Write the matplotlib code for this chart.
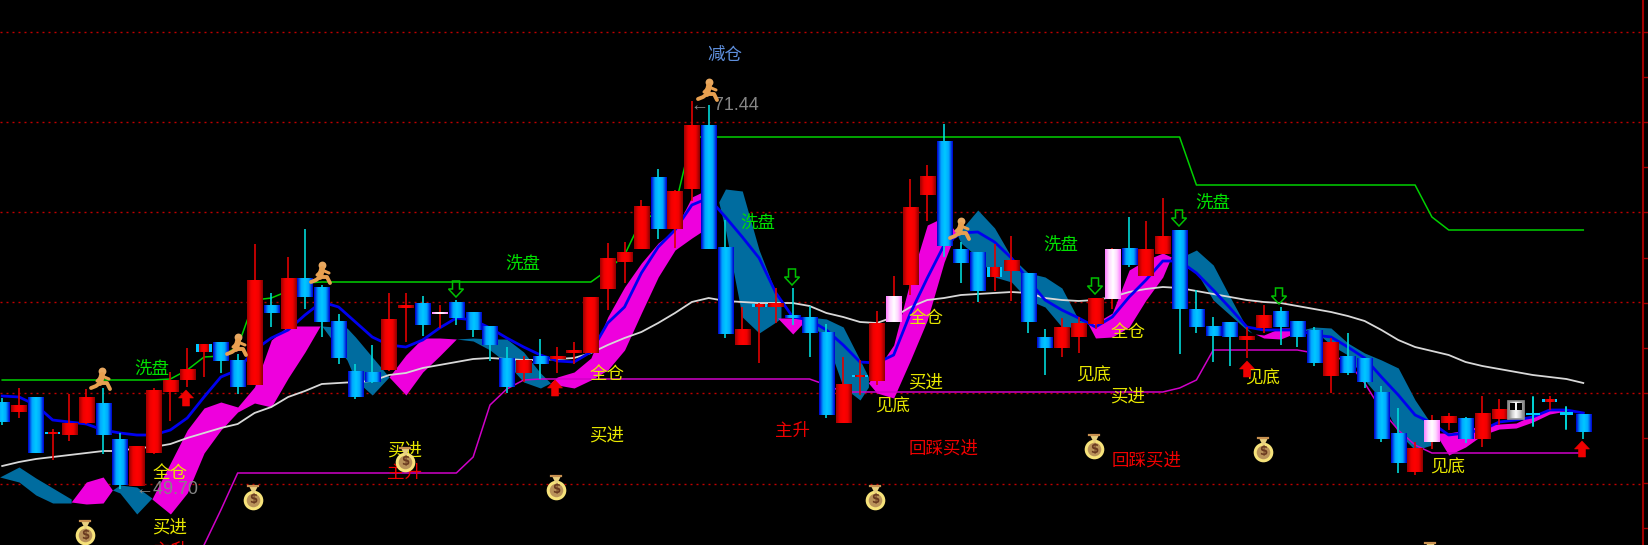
import numpy as np
import matplotlib
matplotlib.use("Agg")
import matplotlib.pyplot as plt
from matplotlib.colors import LinearSegmentedColormap
from matplotlib.patches import Polygon, Rectangle

plt.rcParams['font.family'] = ['Noto Sans CJK SC', 'DejaVu Sans']

kinds = ['b','r','b','x','r','r','b','b','r','r','r','r','x','b','b','r','b','r','b','b',
         'b','b','b','r','d','b','p','b','b','b','b','r','b','d','d','r','r','r','r','b',
         'r','r','b','b','r','x','d','b','b','b','r','x','r','p','r','r','b','b','b','x',
         'r','b','b','r','r','r','p','b','r','r','b','b','b','b','d','r','b','b','b','r',
         'b','b','b','b','r','p','r','b','r','r','w','c','x','c','b']
body_top = [402,405,397,432,423,397,403,439,446,390,380,369,344,342,360,280,305,278,278,287,
            321,371,372,319,305,303,312,302,312,326,358,360,356,356,350,297,258,252,206,177,
            191,125,125,247,329,304,303,315,317,332,384,375,323,296,207,176,141,249,252,267,
            260,273,337,327,323,298,249,248,249,236,230,309,326,322,336,315,311,321,330,342,
            356,358,392,433,448,420,416,418,413,409,401,413,399,412,414]
body_bot = [422,412,453,434,435,423,435,485,486,453,392,380,352,361,387,385,313,329,297,322,
            358,397,382,370,308,325,314,318,330,345,387,373,364,359,353,353,289,262,249,229,
            229,189,249,334,345,307,307,318,333,415,423,377,381,322,285,195,246,263,291,277,
            271,322,348,348,337,324,299,265,276,254,309,327,336,337,340,328,327,337,363,376,
            373,382,439,463,472,442,423,439,439,419,419,415,402,415,432]
high = [398,388,397,429,394,389,388,433,446,388,372,348,344,342,354,244,293,257,229,285,
        314,364,345,293,293,296,305,300,312,326,347,356,339,347,342,297,243,242,200,169,
        190,101,105,220,307,303,288,288,306,324,357,360,311,276,179,165,124,242,252,244,
        236,273,329,318,317,298,248,217,221,198,230,290,317,322,327,305,307,321,327,338,
        333,358,386,408,442,415,413,417,396,399,401,397,396,407,414]
low = [425,418,453,460,441,424,454,489,486,454,421,387,377,373,394,385,327,329,309,337,
       364,399,383,371,342,336,328,325,337,361,393,382,379,373,364,353,310,283,249,239,
       248,201,249,338,345,363,323,325,357,418,423,395,385,322,295,221,257,283,302,291,
       301,333,375,357,353,329,309,267,276,254,354,333,362,366,358,333,345,347,366,393,
       375,388,442,473,475,449,430,443,447,425,419,426,410,429,439]

# moving averages, one value per candle
blue_ma = [396,397,405,420,422,424,430,433,435,435,430,418,397,377,370,350,338,330,315,302,
           307,322,337,345,347,340,328,318,320,328,338,347,355,361,362,352,323,307,273,247,
           230,205,198,217,237,258,293,317,320,330,345,362,363,355,313,278,245,233,232,242,
           258,280,300,310,318,327,317,297,280,261,261,273,290,308,327,330,330,330,335,337,
           347,358,377,395,415,423,435,433,430,422,420,417,410,410,413]
grey_ma = [466,462,459,457,455,453,451,451,448,447,444,438,433,428,424,413,407,397,391,384,
           383,382,381,375,373,368,365,362,359,358,359,360,360,359,358,353,345,338,332,323,
           313,302,298,301,302,303,303,303,306,313,317,322,323,317,307,300,298,295,294,293,
           292,293,298,300,301,300,297,292,289,287,288,291,294,297,300,302,303,306,309,312,
           316,321,330,340,347,351,355,362,366,369,372,375,377,379,383]
green_ln = [380]*10 + [379,370,357,356,347,300,298,291,283] + [282]*17 + \
           [270,255,220,213,207,137] + [137]*29 + [185]*14 + [217] + [230]*9
magenta_idx = list(range(12, 95))
magenta_ln = [545,510] + [473]*14 + [457,405,389,380] + [379]*17 + [385] + [392]*20 + \
             [388,380] + [350]*6 + [353,355,362,383,410,430,445] + [453]*10

# ribbon segments: (candle position, upper level, lower level)
TEAL = '#006c9f'
MAG = '#ee00dd'
ribbons = [
 (TEAL, [-0.15,1,2,3,4.1], [477,467,478,488,499], [477,482,495,503,503]),
 (MAG,  [4.1,5,6,6.55], [502,482,477,490], [502,504,503,490]),
 (TEAL, [6.55,7,8,8.9], [490,485,487,498], [490,493,514,498]),
 (MAG,  [8.9,10,11,12,13,14,15,16,17,18,18.9],
        [499,463,430,408,402,407,387,340,326,326,326],
        [499,514,493,453,430,412,403,407,378,352,326]),
 (TEAL, [19,20.5,21,22,23], [326,328,337,357,377], [326,360,380,395,377]),
 (MAG,  [23,24,25,26,27], [377,355,338,338,339], [377,395,372,356,339]),
 (TEAL, [27,28,29,30,31,32,32.6], [339,338,339,339,352,373,383], [339,341,350,363,382,388,383]),
 (MAG,  [32.6,33,34,35,36,37,38,39,40,41,42,42.3],
        [383,377,372,358,317,287,263,243,230,197,189,205],
        [383,385,388,380,370,350,313,277,250,238,227,205]),
 (TEAL, [42.6,43,44,45,46,46.3], [202,189,191,250,293,303], [202,230,317,333,322,318]),
 (MAG,  [46.1,47,47.9], [318,318,318], [318,334,318]),
 (TEAL, [47.9,48,49,50,51,51.5], [318,317,319,327,360,377], [318,322,340,387,400,387]),
 (MAG,  [51.5,52,53,54,55,56,56.7], [383,370,345,280,225,217,232], [383,393,398,360,320,262,232]),
 (TEAL, [56.7,57,58,59,60,61,62,63,64,64.5],
        [232,230,210,228,257,273,277,288,320,322],
        [232,243,257,277,282,300,307,327,327,322]),
 (MAG,  [64.5,65,66,67,68,69,69.5], [322,323,313,270,260,253,257], [322,338,337,327,300,277,257]),
 (TEAL, [69.6,70,71,72,73,74,74.3], [258,258,250,265,297,328,333], [258,265,272,300,315,330,333]),
 (MAG,  [74.5,75,76,76.6,77], [334,335,328,328,331], [334,338,339,335,331]),
 (TEAL, [77,78,79,80,81,82,83,84,85], [331,327,328,343,353,360,368,400,425], [331,330,345,355,380,400,433,450,445]),
 (MAG,  [85.2,86,87,88,89,90,91,92,93], [433,433,430,425,424,423,415,410,411], [433,455,447,435,429,428,422,414,411]),
]

# labels (picture position, text, colour)
labels = [
 (152,369,'洗盘','#00e000'),(523,264,'洗盘','#00e000'),(758,223,'洗盘','#00e000'),
 (1061,245,'洗盘','#00e000'),(1213,203,'洗盘','#00e000'),
 (725,55,'减仓','#5f8fdc'),
 (170,473,'全仓','#e8e800'),(607,374,'全仓','#e8e800'),(926,318,'全仓','#e8e800'),(1128,332,'全仓','#e8e800'),
 (170,528,'买进','#e8e800'),(405,451,'买进','#e8e800'),(607,436,'买进','#e8e800'),
 (926,383,'买进','#e8e800'),(1128,397,'买进','#e8e800'),
 (170,551,'主升','#f00000'),(405,473,'主升','#f00000'),(793,431,'主升','#f00000'),
 (893,407,'见底','#e8e800'),(1094,376,'见底','#e8e800'),(1263,379,'见底','#e8e800'),(1448,468,'见底','#e8e800'),
 (944,449,'回踩买进','#f00000'),(1147,461,'回踩买进','#f00000'),
]
price_labels = [(135,490,'←49.70'),(691,105,'← 71.44')]
bags = [(85,533),(253,498),(405,460),(556,488),(875,498),(1094,447),(1263,450),(1430,555)]
runners = [(102,381),(238,347),(322,275),(709,92),(961,231)]
down_arrows = [(456,289),(792,277),(1095,286),(1179,218),(1279,296)]
up_arrows = [(186,398),(555,388),(1247,369),(1582,449)]
grid_levels = [32,122,212,302,393,484]

X0, DX = 2.2, 16.82
W, H = 1648, 545
def xp(px): return (px - X0) / DX

fig = plt.figure(figsize=(W/100, H/100), dpi=100, facecolor='black')
ax = fig.add_axes([0, 0, 1, 1], facecolor='black')
ax.set_axis_off()

for g in grid_levels:
    ax.plot([xp(0), xp(1640)], [g, g], color='#c00000', lw=1.0, ls=(0, (1.44, 2.88)), zorder=1)
ax.plot([xp(1643)]*2, [0, H], color='#a00000', lw=1.5, zorder=1)
for k in range(0, 12):
    y = 32 + 45.1*k
    if y > H: break
    ax.plot([xp(1643), xp(1648 if k % 2 == 0 else 1646.5)], [y, y], color='#a00000', lw=1.0, zorder=1)

for col, xs, up, lo in ribbons:
    ax.fill_between(xs, up, lo, color=col, lw=0, zorder=2)

i = np.arange(95)
ax.plot(i, green_ln, color='#00d000', lw=1.1, zorder=2.2)
ax.plot(magenta_idx, magenta_ln, color='#d000c8', lw=1.1, zorder=2.3)
ax.plot(i, grey_ma, color='#d8d8d8', lw=1.3, zorder=2.4)
ax.plot(i, blue_ma, color='#0000f0', lw=2.0, zorder=2.5)

cmaps = {
 'r': ['#a00000','#f00000','#ff0000','#f00000','#900000'],
 'b': ['#0000d0','#00a8ff','#00c8ff','#00a8ff','#0000d0'],
 'p': ['#ff80ff','#ffd8ff','#ffffff','#ffd8ff','#ff80ff'],
 'w': ['#808080','#d0d0d0','#ffffff','#d0d0d0','#808080'],
}
cmaps = {k: LinearSegmentedColormap.from_list(k, v) for k, v in cmaps.items()}
grad = np.linspace(0, 1, 32)[None, :]
HALF = 7.6 / DX

def body(ix, t, b, key, half=HALF, z=4):
    ax.imshow(grad, extent=(ix-half, ix+half, b, t), cmap=cmaps[key], aspect='auto',
              interpolation='bilinear', zorder=z)

for n in range(95):
    k = kinds[n]
    t, b, hi, lo = body_top[n], body_bot[n], high[n], low[n]
    wick = {'r':'#e00000','d':'#e00000','x':'#e00000','p':'#e00000'}.get(k, '#00d8d8')
    ax.plot([n, n], [hi, lo], color=wick, lw=1.2, zorder=3, solid_capstyle='butt')
    if k in 'rbp':
        body(n, t, b, k)
    elif k == 'd':
        body(n, t, b, 'r')
    elif k == 'c':
        ax.add_patch(Rectangle((n-HALF*0.9, t), 2*HALF*0.9, b-t, color='#00c8ff', lw=0, zorder=4))
        ax.plot([n, n], [hi, lo], color='#00d8d8', lw=1.2, zorder=4.1)
    elif k == 'x':
        ax.add_patch(Rectangle((n-HALF, t), 2*HALF, b-t, color='#00c8ff', lw=0, zorder=4))
        body(n, t, b, 'r', half=HALF*0.6, z=4.1)
    elif k == 'w':
        body(n, t, b, 'w')
        u = 1/DX
        ax.add_patch(Rectangle((n-6*u, t+2), 5*u, 7, fc='black', lw=0, zorder=4.2))
        ax.add_patch(Rectangle((n+1*u, t+2), 5*u, 7, fc='black', lw=0, zorder=4.2))
        ax.add_patch(Rectangle((n-8*u, t), 16*u, b-t, fc='none', ec='#909090', lw=1.2, zorder=4.3))

for px, py, s, c in labels:
    ax.text(xp(px), py, s, color=c, fontsize=12.6, ha='center', va='center', zorder=6)
for px, py, s in price_labels:
    ax.text(xp(px), py, s, color='#858585', fontsize=13, ha='left', va='center', zorder=6,
            family=['Liberation Sans', 'DejaVu Sans'])

for px, py in bags:
    ax.scatter([xp(px)], [py+2], s=200, c='#f6e27a', lw=0, zorder=7)
    ax.scatter([xp(px)], [py+2], s=95, c='#b9925a', lw=0, zorder=7.1)
    ax.scatter([xp(px)], [py-8], s=42, marker='v', c='#e8d080', lw=0, zorder=7)
    ax.plot([xp(px-5), xp(px+5)], [py-12, py-12], color='#c89050', lw=1.6, zorder=7.2)
    if py + 10 < H:
        ax.text(xp(px), py+2, '$', color='#6a3a20', fontsize=8.5, fontweight='bold', ha='center',
                va='center', zorder=7.3, family='DejaVu Sans')

def limbs(px, py, pts, lw):
    xs = [xp(px+a) for a, b in pts]
    ys = [py+b for a, b in pts]
    ax.plot(xs, ys, color='#e8a050', lw=lw, zorder=7, solid_capstyle='round', solid_joinstyle='round')

for px, py in runners:
    ax.scatter([xp(px)], [py-10], s=32, c='#e8a860', lw=0, zorder=7)
    limbs(px, py, [(0, -6), (-2, 2)], 4.2)
    limbs(px, py, [(-2, 2), (-6, 5), (-11, 7)], 2.8)
    limbs(px, py, [(-2, 2), (5, 2), (8, 8)], 2.8)
    limbs(px, py, [(0, -5), (-5, 0)], 2.2)
    limbs(px, py, [(0, -5), (7, -2)], 2.2)

ARROW = [(-3.5, -8), (3.5, -8), (3.5, 0), (7.5, 0), (0, 8), (-7.5, 0), (-3.5, 0)]
for px, py in down_arrows:
    ax.add_patch(Polygon([(xp(px+a), py+b) for a, b in ARROW], closed=True, fc='none',
                         ec='#00c000', lw=1.1, zorder=6))
for px, py in up_arrows:
    ax.add_patch(Polygon([(xp(px+a), py-b) for a, b in ARROW], closed=True, fc='#f00000',
                         ec='#f00000', lw=0.4, zorder=6))

ax.set_xlim(xp(0), xp(W))
ax.set_ylim(H, 0)
fig.savefig('out.png', dpi=100, facecolor='black')
